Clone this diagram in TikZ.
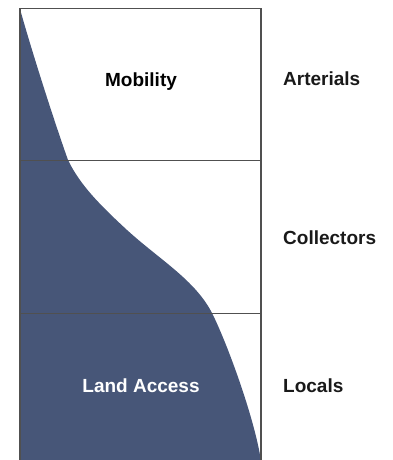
\documentclass[tikz,border=0pt]{standalone}
\usepackage{fontspec}
\setmainfont{Liberation Sans}
\definecolor{areablue}{RGB}{71,86,120}
\definecolor{framegray}{RGB}{80,80,80}
\tikzset{
  lbl/.style={font=\bfseries\fontsize{19}{21}\selectfont, inner sep=0pt},
  rowlbl/.style={lbl, anchor=west, text=black!90},
  frameline/.style={draw=framegray, line width=1.2pt},
}
\begin{document}
\begin{tikzpicture}[x=1pt,y=-1pt]
\useasboundingbox (0,0) rectangle (393,460);
\fill[areablue] (20,9) .. controls (30,45) and (52,115) .. (68,160)
  .. controls (80,185) and (100,205) .. (127,230)
  .. controls (160,260) and (195,280) .. (212,313)
  .. controls (228,345) and (255,420) .. (261,461)
  -- (20,461) -- cycle;
\coordinate (tl) at (20,8.5);
\coordinate (tr) at (261,8.5);
\coordinate (bl) at (20,461);
\coordinate (br) at (261,461);
\coordinate (a1) at (20,160);
\coordinate (b1) at (261,160);
\coordinate (a2) at (20,313.5);
\coordinate (b2) at (261,313.5);
\draw[frameline] (bl) -- (tl) -- (tr) -- (br);
\draw[frameline, line width=1pt] (a1) -- (b1);
\draw[frameline, line width=1pt] (a2) -- (b2);
\node[lbl] (mob) at (141,81.5) {Mobility};
\node[lbl, text=white] (land) at (141,385.5) {Land Access};
\node[rowlbl] (art) at (283,79) {Arterials};
\node[rowlbl] (col) at (283,238) {Collectors};
\node[rowlbl] (loc) at (283,385.5) {Locals};
\end{tikzpicture}
\end{document}
